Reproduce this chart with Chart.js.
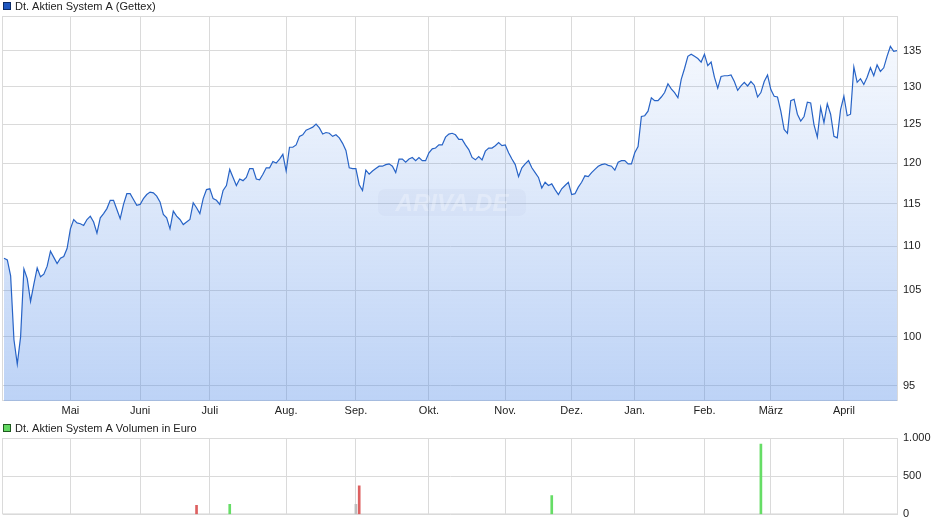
<!DOCTYPE html>
<html>
<head>
<meta charset="utf-8">
<script src="https://cdn.jsdelivr.net/npm/chart.js@4.4.1/dist/chart.umd.min.js"></script>
<style>
  html, body { margin: 0; padding: 0; background: #fff; }
  #wrap { position: relative; width: 940px; height: 526px; overflow: hidden; }
  #priceBox { position: absolute; left: 0; top: 0; width: 940px; height: 420px; }
  #volBox { position: absolute; left: 0; top: 418px; width: 940px; height: 108px; }
</style>
</head>
<body>
<div id="wrap">
  <div id="priceBox"><canvas id="price" width="940" height="420"></canvas></div>
  <div id="volBox"><canvas id="volume" width="940" height="108"></canvas></div>
</div>
<script>
const priceLabel = 'Dt. Aktien System A (Gettex)';
const volumeLabel = 'Dt. Aktien System A Volumen in Euro';

// one closing price per trading day, oldest first
const prices = [
  108.6, 108.4, 106.6, 99.7, 97.2, 100.0, 107.4, 106.3, 103.8, 105.7,
  107.5, 106.5, 106.8, 107.7, 109.4, 108.7, 108.0, 108.6, 108.8, 109.7,
  112.0, 113.1, 112.7, 112.6, 112.4, 113.1, 113.5, 112.8, 111.5, 113.3,
  113.8, 114.4, 115.4, 115.4, 114.3, 113.2, 114.9, 116.2, 116.2, 115.5,
  114.8, 114.9, 115.6, 116.1, 116.4, 116.3, 115.9, 115.2, 113.7, 113.3,
  112.0, 114.1, 113.5, 113.1, 112.5, 112.8, 113.1, 115.1, 114.5, 113.8,
  115.6, 116.7, 116.8, 115.6, 115.4, 114.9, 116.6, 117.2, 119.2,
  118.2, 117.2, 118.0, 117.8, 118.2, 119.3, 119.3, 118.0, 117.9, 118.6,
  119.4, 119.4, 120.2, 120.0, 120.5, 121.1, 119.0, 122.0, 122.0, 122.3,
  123.4, 123.6, 124.2, 124.4, 124.6, 125.0, 124.5, 123.7, 123.9, 123.8,
  123.4, 123.6, 123.2, 122.5, 121.6, 119.4, 119.3, 119.3, 117.3, 116.6,
  119.1, 118.6, 119.0, 119.3, 119.6, 119.6, 119.8, 119.9, 119.6, 118.8,
  120.5, 120.5, 120.1, 120.5, 120.7, 120.3, 120.7, 120.3, 120.3, 121.3,
  121.8, 121.9, 122.3, 122.3, 123.3, 123.7, 123.8, 123.6,
  123.0, 123.0, 122.3, 121.7, 120.7, 120.4, 120.8, 120.4, 121.5, 121.9,
  121.9, 122.2, 122.6, 122.2, 122.3, 121.3, 120.5, 119.8, 118.3, 119.4,
  119.9, 120.3, 119.4, 118.8, 118.2, 116.9, 117.6, 117.2, 117.4, 116.7,
  116.1, 116.8, 117.2, 117.6, 116.1, 116.2, 117.0, 117.6, 118.4, 118.3,
  118.8, 119.2, 119.6, 119.8, 119.9, 119.7, 119.6, 119.1, 120.1, 120.3,
  120.3, 119.9, 119.9, 121.3, 122.1, 126.0, 126.1, 126.7, 128.5, 128.1,
  128.1, 128.6, 129.2, 130.4, 129.7, 129.2, 128.5, 131.0, 132.5,
  134.2, 134.5, 134.2, 133.9, 133.4, 134.5, 132.9, 133.4, 131.3, 129.8,
  131.4, 131.5, 131.5, 131.6, 130.7, 129.5, 130.1, 130.6, 130.1, 130.7,
  130.2, 128.6, 129.2, 130.7, 131.6, 129.6, 128.7, 128.6, 126.7, 124.3,
  123.8, 128.1, 128.3, 126.3, 125.4, 126.0, 127.9, 127.8, 124.9, 123.3,
  127.2, 125.2, 127.7, 126.3, 123.4, 123.2, 126.9, 128.7, 126.1, 126.3,
  132.7, 130.6, 131.1, 130.3, 131.3, 132.6, 131.5, 133.0, 132.1, 132.6,
  134.2, 135.6, 134.9, 135.0
];

// first trading day of each month (index into prices)
const monthStarts = [20, 41, 62, 85, 106, 128, 151, 171, 190, 211, 231, 253];
const monthLabels = ['Mai', 'Juni', 'Juli', 'Aug.', 'Sep.', 'Okt.', 'Nov.', 'Dez.', 'Jan.', 'Feb.', 'März', 'April'];
const priceTicks = [95, 100, 105, 110, 115, 120, 125, 130, 135];

// days with turnover and the turnover in euro
const volumeDays = [58, 68, 106, 107, 165, 228];
const volumeValues = [118, 131, 131, 373, 246, 920];
const volumeTicks = [0, 500, 1000];

const colors = {
  line: '#2763c6',
  grid: '#dadada',
  text: '#222',
  up: 'rgb(102,221,102)',
  down: 'rgb(221,96,96)',
  flat: 'rgb(190,190,190)'
};

Chart.defaults.font.family = '"Liberation Sans", Arial, sans-serif';
Chart.defaults.font.size = 11;
Chart.defaults.color = colors.text;

const framePlugin = {
  id: 'frame',
  beforeDatasetsDraw(chart) {
    const { ctx, chartArea: a } = chart;
    ctx.save();
    ctx.strokeStyle = colors.grid;
    ctx.lineWidth = 1;
    ctx.strokeRect(a.left - 0.5, a.top + 0.5, a.right - a.left, a.bottom - a.top - 1);
    ctx.restore();
  }
};

const legendPlugin = {
  id: 'boxLegend',
  afterDraw(chart, args, opts) {
    const ctx = chart.ctx;
    const ds = chart.data.datasets[0];
    ctx.save();
    ctx.fillStyle = opts.fill;
    ctx.fillRect(3, opts.y, 8, 8);
    ctx.strokeStyle = opts.border;
    ctx.lineWidth = 1;
    ctx.strokeRect(3.5, opts.y + 0.5, 7, 7);
    ctx.font = '11px "Liberation Sans", Arial, sans-serif';
    ctx.fillStyle = colors.text;
    ctx.textBaseline = 'alphabetic';
    ctx.fillText(ds.label, 15, opts.y + 8);
    ctx.restore();
  }
};

// faint site logo in the middle of the price panel
const watermarkPlugin = {
  id: 'watermark',
  afterDatasetsDraw(chart) {
    const ctx = chart.ctx;
    const cx = 452, cy = 203;
    ctx.save();
    ctx.fillStyle = 'rgba(120,140,180,0.06)';
    ctx.beginPath();
    ctx.roundRect(cx - 74, cy - 14, 148, 27, 7);
    ctx.fill();
    ctx.font = 'italic bold 24px "Liberation Sans", Arial, sans-serif';
    ctx.textAlign = 'center';
    ctx.textBaseline = 'middle';
    ctx.fillStyle = 'rgba(255,255,255,0.28)';
    ctx.fillText('ARIVA.DE', cx, cy + 1);
    ctx.restore();
  }
};

function monthAxis(showLabels, height) {
  return {
    type: 'linear',
    min: -0.3,
    max: prices.length - 0.7,
    offset: false,
    afterBuildTicks: s => { s.ticks = monthStarts.map(v => ({ value: v })); },
    afterFit: s => { s.height = height; },
    ticks: {
      display: showLabels,
      padding: 3,
      maxRotation: 0,
      autoSkip: false,
      callback: v => monthLabels[monthStarts.indexOf(v)]
    },
    grid: { color: colors.grid, drawTicks: false, offset: false },
    border: { display: false }
  };
}

new Chart(document.getElementById('price'), {
  type: 'line',
  data: {
    datasets: [{
      label: priceLabel,
      data: prices.map((p, i) => ({ x: i, y: p })),
      borderColor: colors.line,
      borderWidth: 1.2,
      pointRadius: 0,
      tension: 0,
      fill: 'start',
      backgroundColor: function (context) {
        const { ctx, chartArea } = context.chart;
        if (!chartArea) return 'rgba(80,138,231,0.2)';
        const g = ctx.createLinearGradient(0, chartArea.top, 0, chartArea.bottom);
        g.addColorStop(0, 'rgba(80,138,231,0.03)');
        g.addColorStop(1, 'rgba(80,138,231,0.38)');
        return g;
      }
    }]
  },
  options: {
    responsive: false,
    animation: false,
    layout: { padding: { top: 16, left: 3, right: 0, bottom: 0 } },
    plugins: {
      legend: { display: false },
      tooltip: { enabled: false },
      boxLegend: { y: 2, fill: '#1f57c0', border: '#0b2a66' }
    },
    scales: {
      x: monthAxis(true, 19),
      y: {
        type: 'logarithmic',
        position: 'right',
        min: 93.5,
        max: 140,
        afterBuildTicks: s => { s.ticks = priceTicks.map(v => ({ value: v })); },
        afterFit: s => { s.width = 42; },
        ticks: { padding: 5, callback: v => String(v) },
        grid: { color: colors.grid, drawTicks: false },
        border: { display: false }
      }
    }
  },
  plugins: [framePlugin, legendPlugin, watermarkPlugin]
});

const volumeColors = volumeDays.map(d =>
  prices[d] > prices[d - 1] ? colors.up : (prices[d] < prices[d - 1] ? colors.down : colors.flat));

new Chart(document.getElementById('volume'), {
  type: 'bar',
  data: {
    datasets: [{
      label: volumeLabel,
      data: volumeDays.map((d, i) => ({ x: d, y: volumeValues[i] })),
      backgroundColor: volumeColors,
      barThickness: 2
    }]
  },
  options: {
    responsive: false,
    animation: false,
    layout: { padding: { top: 20, left: 3, right: 0, bottom: 0 } },
    plugins: {
      legend: { display: false },
      tooltip: { enabled: false },
      boxLegend: { y: 6, fill: '#62d862', border: '#1f5a1f' }
    },
    scales: {
      x: monthAxis(false, 10),
      y: {
        position: 'right',
        min: 0,
        max: 1000,
        afterBuildTicks: s => { s.ticks = volumeTicks.map(v => ({ value: v })); },
        afterFit: s => { s.width = 42; },
        ticks: {
          padding: 5,
          callback: v => String(v).replace(/\B(?=(\d{3})+(?!\d))/g, '.')
        },
        grid: { color: colors.grid, drawTicks: false },
        border: { display: false }
      }
    }
  },
  plugins: [framePlugin, legendPlugin]
});
</script>
</body>
</html>
